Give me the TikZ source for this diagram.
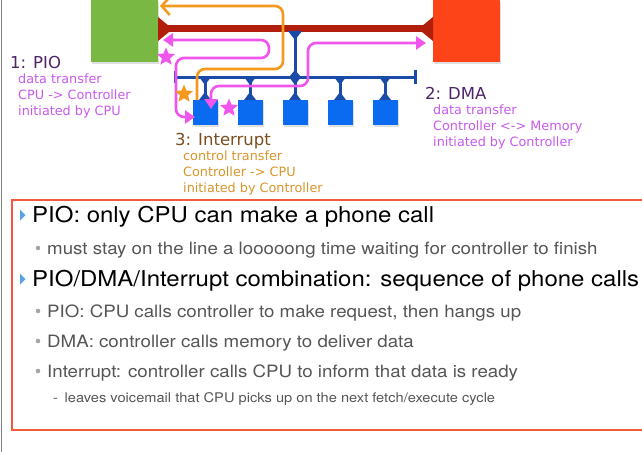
\documentclass[tikz,border=0pt]{standalone}
\usepackage{fontspec}
\setmainfont[FakeStretch=1.1]{TeX Gyre Heros}
\newfontfamily\lblfont{DejaVu Sans}
\usepackage{tikz}
\usetikzlibrary{arrows.meta, shapes.geometric, shadows, calc}

\definecolor{cpugreen}{HTML}{78B843}
\definecolor{memred}{HTML}{FC4418}
\definecolor{busred}{HTML}{B21E0C}
\definecolor{busblue}{HTML}{1A4BA8}
\definecolor{devblue}{HTML}{0A6AF0}
\definecolor{callpink}{HTML}{F055EC}
\definecolor{pioviolet}{HTML}{C95AEE}
\definecolor{titlepurple}{HTML}{50246A}
\definecolor{intorange}{HTML}{F39A1E}
\definecolor{intbrown}{HTML}{7A4E1E}
\definecolor{inttext}{HTML}{D8952A}
\definecolor{boxred}{HTML}{F2583E}
\definecolor{tribl}{HTML}{5AA2E8}
\definecolor{subgray}{HTML}{555555}

\tikzset{
  unitbox/.style={inner sep=0pt, minimum width=67, minimum height=62, anchor=north west,
    drop shadow={opacity=0.25, shadow xshift=1pt, shadow yshift=-2pt}},
  dev/.style={fill=devblue, inner sep=0pt, minimum size=25, anchor=north,
    drop shadow={opacity=0.25, shadow xshift=1pt, shadow yshift=-2pt}},
  membus/.style={busred, line width=7},
  iobus/.style={busblue, line width=3},
  pioarrow/.style={callpink, line width=2.6, rounded corners=8, {Triangle[length=10,width=13]}-{Triangle[length=10,width=13]}},
  intarrow/.style={intorange, line width=2.6, rounded corners=8, -{Straight Barb[length=8,width=18]}},
  callstar/.style={star, star points=5, star point ratio=2.2, inner sep=0pt, minimum size=19},
  lbltitle/.style={anchor=base west, inner sep=0pt, font=\lblfont\fontsize{16.5}{18}\selectfont},
  lblsub/.style={anchor=north west, inner sep=0pt, align=left, font=\lblfont\fontsize{12.8}{16}\selectfont},
  toplvl/.style={anchor=base west, inner sep=0pt, font=\fontsize{21.8}{24}\selectfont},
  sublvl/.style={anchor=base west, inner sep=0pt, text=subgray, font=\fontsize{17}{20}\selectfont}
}

\begin{document}
\begin{tikzpicture}[x=1pt,y=-1pt]
  \useasboundingbox (0,0) rectangle (642,452);
  \draw[gray, line width=1.5] (1.5,0) -- (1.5,452);

  \node[unitbox, fill=cpugreen] (cpu) at (91,0) {};
  \node[unitbox, fill=memred] (mem) at (433,0) {};

  \coordinate (mbl) at (158,29);
  \coordinate (mbr) at (433,29);
  \draw[membus] (mbl) -- (mbr);
  \fill[busred] (158,17) -- (169,26) -- (169,32) -- (158,41) -- cycle;
  \fill[busred] (433,17) -- (422,26) -- (422,32) -- (433,41) -- cycle;

  \coordinate (iol) at (175,77);
  \coordinate (ior) at (415,77);
  \coordinate (link) at (295,32);
  \draw[iobus] (iol) -- (ior);
  \draw[iobus] (175,71) -- (175,83);
  \draw[iobus] (415,70) -- (415,84);
  \draw[iobus] (link) -- (link |- iol);
  \fill[busblue] (288,31) -- (302,31) -- (295,40) -- cycle;
  \fill[busblue] (289,77) -- (301,77) -- (295,70) -- cycle;

  \foreach \i in {1,...,5} {
    \node[dev] (dev\i) at ({160+45*\i},100) {};
    \draw[iobus] (dev\i.north |- iol) -- (dev\i.north);
    \fill[busblue] ($(dev\i.north |- iol)+(-6,0)$) -- ($(dev\i.north |- iol)+(6,0)$) -- ($(dev\i.north |- iol)+(0,8)$) -- cycle;
    \fill[busblue] ($(dev\i.north)+(-6,0)$) -- ($(dev\i.north)+(6,0)$) -- ($(dev\i.north)+(0,-8)$) -- cycle;
  }

  \coordinate (int-d) at (197,100);
  \coordinate (int-c) at (160,6);
  \draw[intarrow] (int-d) |- (283,69) |- (int-c);

  \coordinate (pio-c) at (163,40);
  \coordinate (pio-d) at (195,117);
  \draw[pioarrow] (pio-c) -- (269,40) -- (269,58) -- (176,58) -- (176,117) -- (pio-d);

  \coordinate (dma-d) at (211,109);
  \coordinate (dma-m) at (426,43);
  \draw[pioarrow] (dma-d) |- (308,86) |- (dma-m);

  \node[callstar, fill=intorange] (s-int) at (184,94) {};
  \node[callstar, fill=callpink] (s-pio) at (166,57) {};
  \node[callstar, fill=callpink] (s-dma) at (229,108) {};

  \node[lbltitle, text=titlepurple] (l-pio) at (10,68) {1: PIO};
  \node[lblsub, text=pioviolet] (d-pio) at (18,73.3) {data transfer\\CPU -> Controller\\initiated by CPU};
  \node[lbltitle, text=titlepurple] (l-dma) at (425,99) {2: DMA};
  \node[lblsub, text=pioviolet] (d-dma) at (433,104.3) {data transfer\\Controller <-> Memory\\initiated by Controller};
  \node[lbltitle, text=intbrown] (l-int) at (175,145) {3: Interrupt};
  \node[lblsub, text=inttext] (d-int) at (183,150.3) {control transfer\\Controller -> CPU\\initiated by Controller};

  \draw[boxred, line width=1.5] (12,200) rectangle (660,430);

  \fill[tribl] (20,209.5) -- (25.5,215) -- (20,220.5) -- cycle;
  \node[toplvl] (t1) at (32,222) {PIO: only CPU can make a phone call};
  \fill[gray!70] (38,248) circle (2.3);
  \node[sublvl] (t1a) at (47,254) {must stay on the line a looooong time waiting for controller to finish};
  \fill[tribl] (20,273.5) -- (25.5,279) -- (20,284.5) -- cycle;
  \node[toplvl] (t2) at (32,286) {PIO/DMA/Interrupt combination: sequence of phone calls};
  \fill[gray!70] (38,311) circle (2.3);
  \node[sublvl] (t2a) at (47,317) {PIO: CPU calls controller to make request, then hangs up};
  \fill[gray!70] (38,341) circle (2.3);
  \node[sublvl] (t2b) at (47,347) {DMA: controller calls memory to deliver data};
  \fill[gray!70] (38,371) circle (2.3);
  \node[sublvl] (t2c) at (47,377) {Interrupt: controller calls CPU to inform that data is ready};
  \node[sublvl, font=\fontsize{13.3}{15}\selectfont] (t2d) at (53,402) {-\enspace leaves voicemail that CPU picks up on the next fetch/execute cycle};
\end{tikzpicture}
\end{document}
